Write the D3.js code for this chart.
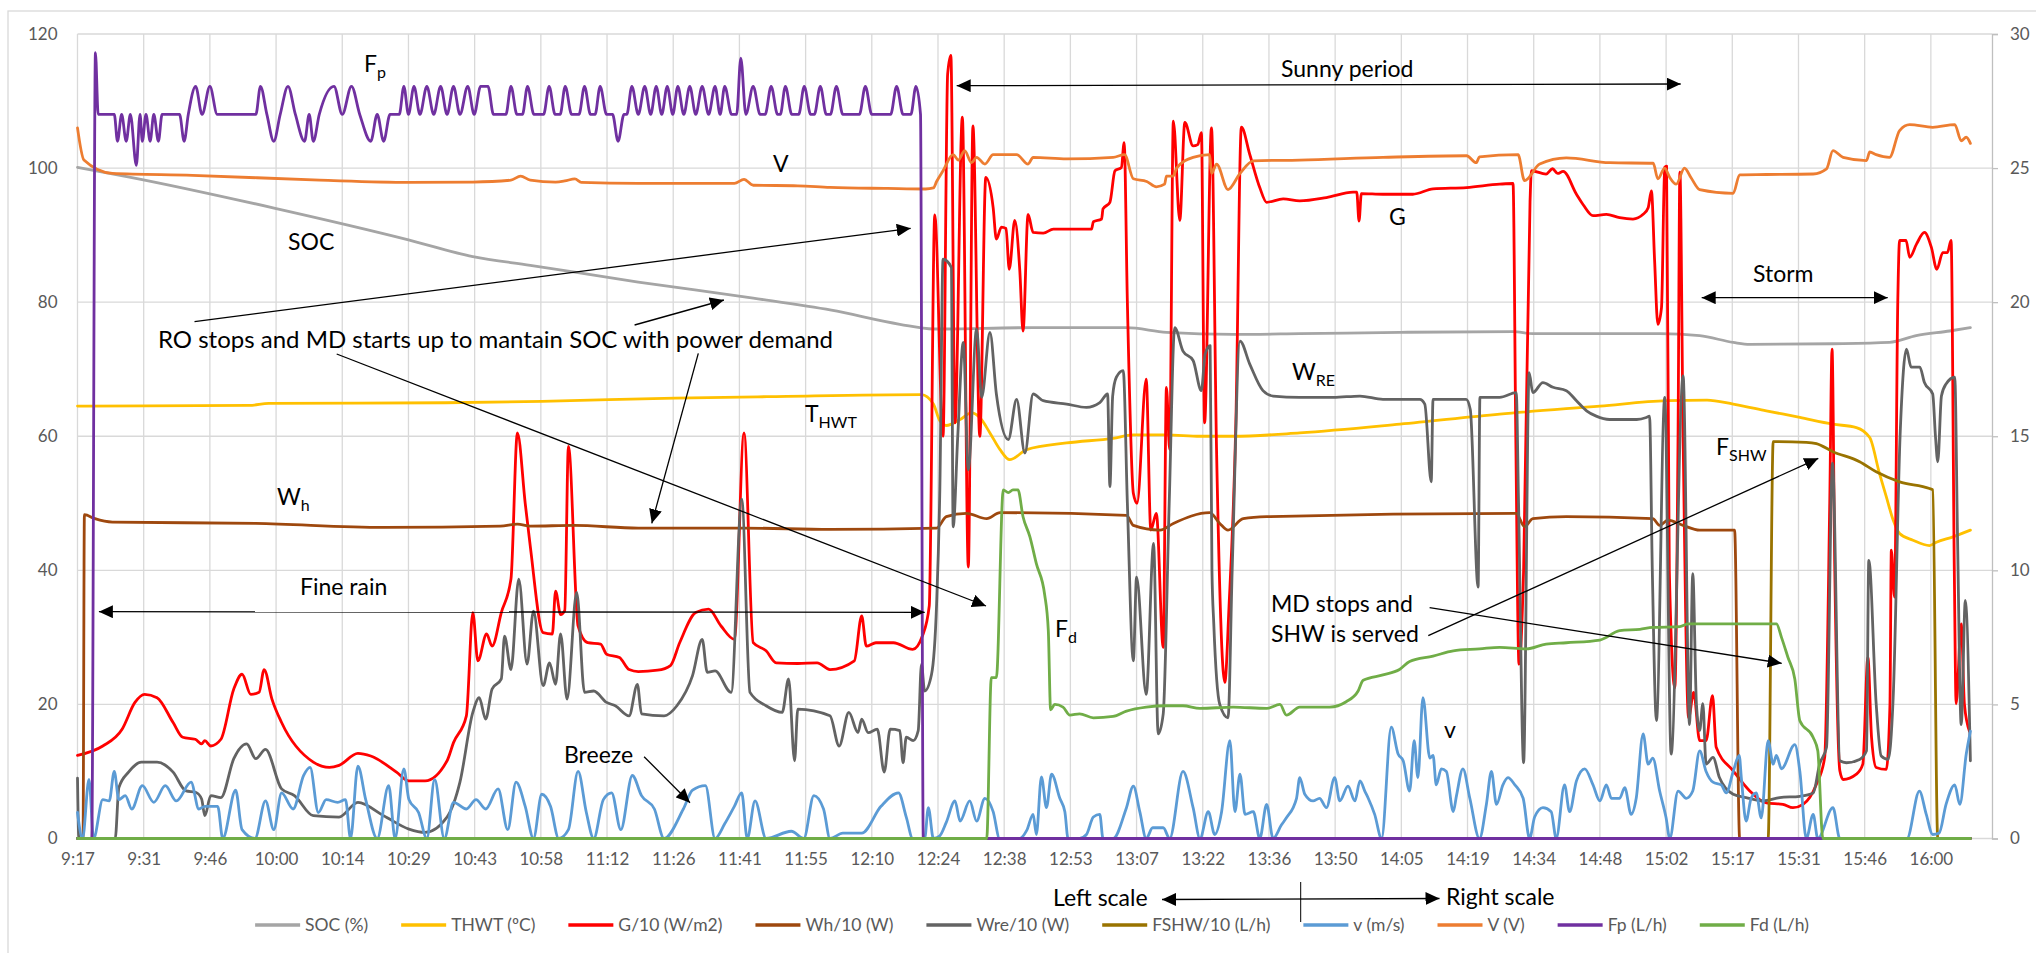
<!DOCTYPE html>
<html>
<head>
<meta charset="utf-8">
<script src="https://cdn.jsdelivr.net/npm/d3@7"></script>
<style>
  body { margin: 0; background: #fff; }
  text { font-family: Lato, "Liberation Sans", sans-serif; }
</style>
</head>
<body>
<svg id="chart"></svg>
<script>
// time axis: minutes since 9:17, one label every 14.4 min
const timeLabels = ["9:17","9:31","9:46","10:00","10:14","10:29","10:43","10:58","11:12","11:26","11:41","11:55","12:10","12:24",
  "12:38","12:53","13:07","13:22","13:36","13:50","14:05","14:19","14:34","14:48","15:02","15:17","15:31","15:46","16:00"];
const labelStep = 14.4;
const leftTicks = [0, 20, 40, 60, 80, 100, 120];
const rightTicks = [0, 5, 10, 15, 20, 25, 30];

// left scale series [minute, value]
const socData = [[0,100.1],[11,98.7],[43,94],[72,89.3],[86,86.8],[98.5,85.5],[122,83],[147,80.6],[164,78.8],[178.9,76.7],[186.2,76],
  [207.9,76.2],[228.2,76.2],[236.9,75.5],[251.4,75.2],[265.9,75.3],[287.7,75.5],[312.3,75.6],[316.6,75.3],[344.2,75.3],[352.9,75],
  [360.2,74],[363.8,73.7],[381.9,73.8],[394.2,74],[400,75],[407.3,75.7],[411.8,76.2]];

const thwtData = [[0,64.5],[37.4,64.6],[41.6,64.9],[80,65],[101,65.2],[130,65.7],[150,65.9],[183.6,66.2],[186.2,64.8],[187.6,62.3],
  [189,61.6],[192,62.5],[194.5,63.5],[196.3,62.8],[198.5,60.5],[200.7,58],[202.8,56.5],[206.5,58],[215.2,59],[225.3,59.7],[229.7,60.2],
  [236.9,60.2],[244.2,60],[251.4,60],[265.9,60.5],[287.7,61.8],[309.4,63.3],[331.2,64.5],[345.7,65.3],[354.5,65.4],[360.2,64.8],
  [367.4,63.8],[374.7,62.8],[381.9,61.8],[387,61.3],[389.9,59.8],[392,54.5],[393.5,51],[395,47.5],[396.4,45.5],[399.3,44.5],
  [402.9,43.7],[404.4,44.2],[408,45],[411.8,46]];

const gData = [[0,12.4],[5.5,13.8],[9.7,16.3],[12.5,20.3],[14.6,21.5],[17.3,21],[20.8,17.3],[22.9,15.1],[25.6,14.8],[27,14.1],[27.7,14.6],
  [29,13.8],[31.2,14.8],[34,22.3],[35.8,24.5],[37.7,21.5],[39.5,21.8],[40.6,25.2],[42.3,20.8],[44.4,17.3],[51.3,11.4],[54.8,10.6],
  [56.9,10.9],[61,12.7],[63.8,12.3],[69.4,9.9],[72,8.6],[75.6,8.6],[80.4,11.6],[81.8,14.3],[84.6,18.3],[86,33.7],[87.1,26.5],[89,30.5],
  [90.2,28.7],[92.2,33.7],[94.3,38.7],[95.7,60.5],[97.4,50],[98.5,43.6],[101.3,30.7],[103.3,30.5],[104,36.9],[105.1,33.4],[106,34],
  [106.8,58.5],[108.9,31.7],[111,29.2],[113.8,29],[115.1,27.5],[117.9,27],[120,25.2],[122,24.9],[126.2,25.1],[129,25.8],[131,29.2],
  [134.5,33.7],[137.3,34.2],[140,31.7],[142.9,29.7],[145,60.5],[147,29.2],[149.8,28],[152,26.2],[156.7,26.1],[160.9,26.2],[163.7,25.2],
  [169,26.5],[170.6,33.2],[171.6,28.7],[173.7,29.2],[177.5,29.2],[181.7,28.2],[183.8,30.2],[185.3,34.7],[186.5,93],[188.3,60],
  [189.3,114],[190,116.8],[190.9,62],[192.5,107.6],[193.8,40.5],[194.8,106.3],[196.3,60],[197.6,98.6],[199.2,94.1],[199.9,89.4],
  [201,91.2],[202,91],[202.7,84.9],[203.9,92.2],[205,84.7],[205.7,75.7],[206.8,93.1],[207.9,90.4],[210.1,90.3],[212.3,90.9],
  [217.3,90.9],[220.6,90.9],[221,92],[222.8,92.4],[223.1,93.9],[224.6,94.9],[225.7,99.6],[227.1,100.1],[227.7,103.8],[228.4,80],
  [229.7,51.5],[230.5,50],[232.5,68.5],[233.5,46],[234.7,48.5],[236.2,28.5],[236.9,67.3],[237.6,58],[238.4,107],[239.8,92.2],
  [240.9,106.8],[242.7,103.3],[243.7,103.5],[244.5,105.3],[245.2,62],[246.7,106],[247.8,58],[249.6,23.3],[250.5,34.4],[252,62],
  [253.2,106.1],[255,102.1],[257.2,97.1],[258.7,94.9],[262.3,95.4],[265.9,95.1],[271.7,95.6],[277.5,96.4],[278.3,96.4],[278.8,92.1],
  [279.3,96.2],[284,96.1],[290.5,96.1],[294.9,96.9],[302.2,97.1],[309.4,97.6],[312.3,97.7],[312.9,60],[313.6,26],[314.6,40],[316,95],
  [316.3,99.6],[319.5,99.1],[320.9,99.9],[322,99.2],[323.2,99.5],[326.1,96.1],[327.6,94.5],[329.7,92.9],[332.6,93.1],[335.5,92.6],
  [338.4,92.4],[340.6,93.1],[341.7,94.1],[342.4,96.6],[343.1,86.2],[343.8,76.7],[344.6,79.2],[345.3,100.1],[345.7,100.3],[346.3,40],
  [347.5,22.5],[348.2,60],[348.6,99.4],[349.3,60],[350.5,18],[351.6,21.8],[352.9,14.6],[354.3,14.6],[355.7,21.3],[356.5,13.6],
  [360.2,10.1],[363.8,7.1],[367.4,5.3],[371,5.1],[373.2,4.6],[375.4,5.1],[378.3,8.1],[380.1,12.1],[381.2,50],[381.7,73],[382.3,40],
  [383.4,10.1],[384.1,8.8],[387,9.6],[388.4,11.1],[389.5,27],[390.3,15],[391.3,10.6],[393.5,10.3],[394.3,20],[394.6,43],[395.3,36],
  [396,80],[396.4,89.2],[397.8,89.2],[398.6,86.7],[400.1,88.7],[401.8,90.4],[403.3,88.2],[404.5,84.9],[405.8,87.4],[406.8,87.4],
  [407.6,89.2],[408.3,40],[408.7,20.1],[409.8,32],[410.5,20],[411.6,16]];

const whData = [[0,0],[1.2,0],[1.5,48.3],[3.8,47.7],[7.6,47.2],[38.8,47],[66.6,46.4],[92,46.6],[95.7,46.9],[98.5,46.6],[108,46.7],
  [122,46.3],[145,46.3],[163.7,46.1],[186.9,46.3],[189,48],[193.4,48.5],[197.8,47.7],[200.7,48.6],[228.2,48.2],[229.7,46.7],
  [235.5,46],[238.4,47],[246.3,48.6],[248.5,47],[250.3,46],[253.6,47.7],[258.7,48],[313,48.5],[314.8,46.5],[316.6,47.7],[323.9,48],
  [342.7,47.7],[344.2,46.7],[346,47.5],[349.3,46.7],[352.9,46],[360.5,46],[361.6,0],[411.8,0]];

const wreData = [[0,9],[0.3,0],[8.2,0],[9,7.6],[11.1,9.9],[13.9,11.4],[17.3,11.4],[20.8,9.9],[23.6,7.1],[25.7,6.9],[27,5.9],[27.7,3.4],[29,6.4],
  [31.2,6.1],[34,11.9],[36.8,14.1],[38.8,11.9],[40.9,13.3],[44.4,7.4],[47.2,6.4],[51.3,3.4],[56.9,3.2],[61,5.4],[66.6,3.4],[72.1,1.4],
  [75.6,0.9],[80.4,3.2],[83.2,8.4],[86,18.8],[87.4,21],[88.8,17.8],[90.2,22.3],[92.2,23.8],[92.9,30.2],[94.3,25.2],[96,38.7],
  [97.8,26],[99.2,33.9],[101.3,22.8],[102.7,26.2],[104,23],[105.1,30.5],[106.5,20.8],[108.6,36.7],[110.3,21.8],[112.3,22],[115.1,20.3],
  [117,19.8],[120,18.3],[121.8,23],[122.7,18.6],[127.6,18.3],[130.4,19.8],[133.8,24.3],[135.9,29.7],[137,24.8],[138.7,25],[142.2,21.8],
  [144.5,50.6],[146.3,21.8],[149.8,19.8],[153.3,18.8],[154.7,23.8],[156,11.6],[156.7,19.3],[163.7,18.3],[165.7,13.8],[167.8,18.8],
  [169.8,15.8],[170.6,17.8],[172,15.8],[174,16.3],[175.5,9.9],[176.8,16.3],[178.9,16.1],[179.6,11.3],[180.3,15.1],[181.8,14.6],
  [182.9,16.1],[183.6,26],[184.3,22],[185.8,24.5],[186.9,35],[187.6,52],[188.3,86.4],[190.1,85.2],[190.5,46.5],[191.5,60],[192.7,74],
  [193.8,55],[195.6,76],[196.7,65.8],[198.5,75.5],[199.9,66.3],[202.5,59.5],[204.3,65.5],[206.1,57.5],[207.9,66.3],[210.1,65.3],
  [215.2,64.8],[219.5,64.3],[222.4,65],[224.1,66.3],[224.6,52.5],[225.2,66],[226,68.8],[227.5,69.8],[228.4,50],[229.7,26.5],
  [230.4,39],[232.5,21.5],[234.1,44],[235.1,15.6],[236.2,18.6],[237.5,50],[238.7,76.2],[240.5,72.7],[242.7,71.3],[244.5,66.8],
  [245.3,72.2],[246.4,73.5],[246.8,40],[247.2,32],[248.5,20],[250.3,18],[251.2,40],[252.9,74.2],[255,70.8],[257.9,66.8],[260.1,66],
  [265.9,65.8],[273.2,65.8],[279,66],[284,65.5],[292,65.5],[293.1,64.8],[294.5,53.2],[294.9,65.5],[302.1,65.5],[303,64],[304.7,37.5],
  [305.1,65.8],[309.4,65.8],[313,66.5],[313.5,50],[314.6,11.3],[315.8,69.5],[316.6,66.5],[318.8,68],[321,67.3],[323.9,66.8],
  [326.1,65.3],[328.3,63.8],[330.4,63],[333.3,62.5],[336.2,62.5],[339.2,62.5],[341.3,62.8],[342,63],[342.6,40],[343.5,17.6],
  [345.3,65.8],[346.7,12.6],[349.3,69],[350.7,17],[351.4,39.5],[352.2,20],[352.9,16.1],[353.6,20.1],[354.3,11.1],[355.8,12.1],
  [357.2,9.1],[360.2,6.6],[363,6.1],[366.7,5.6],[370.3,6.1],[374.7,6.3],[377.6,6.8],[379,11.1],[380.5,13.6],[381.8,56],[383.4,11.6],
  [384.8,11.3],[387.7,11.8],[389.2,13.1],[389.7,41.5],[391.3,20.1],[392.4,12.3],[393.9,11.8],[395,21],[396.5,60],[397.9,73],
  [398.9,70.3],[400.8,70.3],[401.8,68],[403.6,66.3],[404.2,60],[404.7,56.2],[405.5,66],[406.5,67.8],[408.4,68.8],[409,45],[409.8,17],
  [410.7,35.5],[411.8,11.6]];

const fshwData = [[0,0],[367.8,0],[368.9,59.2],[376.1,59.1],[378.3,58.9],[381.9,57.7],[387.7,56.2],[391.3,54.7],[396.4,53.2],
  [402.9,52.2],[403.6,52],[404.7,0],[411.8,0]];

// right scale series
const windData = [[0,0.97],[1.1,0],[2.5,2.2],[3.5,0],[5.5,1.45],[6.9,1.4],[8,2.5],[9,1.45],[10.4,1.6],[11.8,1.1],[14.1,1.97],[16.6,1.35],
  [19.1,1.97],[21.5,1.4],[24.7,2.1],[26.4,1.1],[27.7,1.2],[30.5,1.2],[31.6,0],[34.4,1.8],[35.8,0.33],[38.6,0],[40.9,1.4],[42.7,0.33],
  [44.4,1.7],[46.9,1.1],[49.2,2.35],[50.6,2.65],[52.4,0.97],[54.1,1.45],[56.6,1.35],[58.3,1.45],[59.4,0],[61,2.7],[62.7,1.45],[65.2,0],
  [67.7,1.97],[69.1,0],[71,2.6],[72.1,1.45],[74.2,0.97],[76,0],[77.7,2.2],[79.8,0],[81.8,1.35],[84.6,1.1],[86.7,1.45],[88.8,1.1],
  [91.5,1.85],[93.6,0.33],[95.4,2.1],[97.4,1.2],[99.2,0],[101,1.65],[102.9,1.2],[104.7,0],[106.8,0.33],[108.9,2.5],[110.7,0.97],
  [112.3,0],[114.4,1.45],[116.2,1.7],[118.2,0.33],[120.7,2.35],[122.7,1.6],[125.5,1.1],[127.6,0],[131.8,1.1],[133.8,1.8],[136.6,1.97],
  [138.7,0],[140.8,0.55],[142.9,1.2],[144.5,1.7],[145.7,0],[147.4,1.4],[149.8,0],[155.3,0.27],[158,0],[160.2,1.6],[162.3,1.1],[163.7,0],
  [166.5,0.2],[170.6,0.2],[174.8,1.2],[178.6,1.7],[180.3,0.8],[181.7,0],[184.3,0],[185.1,1.15],[186.2,0],[187.6,0.1],[189,0.6],
  [190.9,1.4],[192,0.65],[194.1,1.4],[195.6,0.65],[197.4,1.5],[199.2,1],[200.6,0],[205,0],[206.5,0.3],[207.9,0.9],[208.6,0.15],
  [209.7,2.3],[210.8,1.15],[211.9,2.4],[213.7,1.5],[214.8,1],[215.5,0],[218,0],[219.5,0.15],[221,0.8],[222.4,0.9],[223.1,0],[225.3,0],
  [228.2,1.15],[229.7,1.95],[231.1,1],[232.5,0],[233.9,0.4],[236.2,0.4],[237.6,0],[240.5,2.5],[242.7,1.15],[244.2,0],[246,1],
  [247.4,0.15],[248.9,1],[250.7,3.65],[251.8,1],[252.9,2.4],[254,0.9],[255.8,1],[257.2,0],[258.7,1.27],[260.1,0],[261.9,0.5],[263,0.77],
  [265.2,1.5],[265.9,2.27],[267,1.65],[268.8,1.4],[270.2,1.5],[271.7,1.15],[273.5,2.27],[274.6,1.4],[276.4,1.95],[277.9,1.4],[279,2.15],
  [280.1,1.75],[280.8,1.5],[282.2,0.9],[283.7,0],[285.8,4.15],[287.3,3.15],[288.4,2.9],[289.8,1.77],[290.8,3.65],[291.6,2.27],
  [292.7,5.25],[294.2,3.0],[294.9,3.1],[295.6,2.0],[296.7,2.6],[297.8,2.5],[299.3,1],[300,1.6],[301.4,2.6],[302.9,1.5],[305,0],
  [306.5,1.27],[307.6,2.5],[308.7,1.27],[310.1,2],[311.2,2.27],[312.7,2],[314.5,1.5],[315.9,0],[317,0.8],[318.8,1.15],[320.6,1],
  [321.7,0],[323.5,2],[324.6,1],[326.1,2.15],[327.9,2.6],[329.7,2],[331.2,1.4],[332.6,2],[333.7,1.5],[335.5,1.5],[336.6,1.9],[338,0.9],
  [339.1,1.5],[340.6,3.9],[341.7,2.77],[342.7,3.0],[344.2,1.77],[345.6,0.77],[346.4,0],[348.2,1.77],[350,1.5],[351.4,1.77],[352.9,3.27],
  [354.3,2.5],[355.8,2.1],[357.6,2.0],[358.7,1.7],[360.2,2.5],[361.5,3.1],[362,2.2],[363,0.65],[364.1,1.5],[365.2,1.7],[366.3,0.77],
  [367.8,3.65],[368.9,2.77],[369.6,3.1],[370.7,2.6],[373.6,3.5],[374.7,2.5],[376.1,0],[377.6,0.9],[378.6,0],[381.9,1.15],[383.4,0],
  [398,0],[400.7,1.77],[402.2,0.9],[403.6,0.15],[405,0.2],[406.5,1.27],[408.4,2],[409.5,1.27],[410.9,3.15],[411.8,4.0]];

const voltData = [[0,26.5],[1.4,25.3],[7.6,24.8],[25,24.73],[52.7,24.55],[72.1,24.47],[86,24.48],[94.3,24.55],[96.4,24.7],[98.5,24.55],
  [104,24.48],[106,24.52],[108.2,24.6],[109.6,24.47],[122,24.43],[142.9,24.43],[145,24.58],[147,24.36],[156.7,24.34],[163.7,24.28],
  [176.2,24.24],[184.5,24.22],[186.2,24.26],[186.9,24.5],[188.3,24.9],[190.5,25.5],[191.6,25.3],[193,25.65],[194.5,25.2],[195.6,25.4],
  [197.4,25.15],[199.2,25.5],[204.3,25.5],[206.8,25.15],[207.9,25.4],[215.2,25.34],[225.3,25.4],[227.8,25.5],[229.7,24.6],
  [232.6,24.5],[234.7,24.3],[236.5,24.4],[236.9,24.7],[238.4,24.7],[239.1,25.0],[242.7,25.4],[246.3,25.5],[246.7,24.8],[247.8,25.15],
  [250.3,24.2],[252.9,24.8],[255.8,25.27],[265.9,25.3],[284,25.4],[302.2,25.46],[304.3,25.2],[305,25.42],[313.4,25.5],[314.8,24.53],
  [318.1,25.15],[323.9,25.38],[333.3,25.2],[342.8,25.18],[343.8,24.6],[345.3,25.0],[346.4,24.65],[347.8,24.4],[349.6,25.0],
  [351,24.65],[352.9,24.2],[360.2,24.06],[361.6,24.75],[367.4,24.76],[377.6,24.78],[380.5,24.97],[381.9,25.65],[384.1,25.4],
  [389.2,25.28],[389.9,25.6],[391.3,25.5],[394.2,25.4],[396.4,26.4],[398.6,26.62],[403.6,26.52],[408.4,26.62],[409.8,26.02],
  [410.9,26.15],[411.8,25.92]];

const fpData = [[0,0],[3.1,0],[3.9,29.3],[4.5,27],[8,27],[8.7,26],[9.6,27],[10.6,26],[11.5,27],[12.8,25.1],[13.6,27],[14.1,26],[14.9,27],
  [15.8,26],[16.6,27],[17.6,26],[18.4,27],[22.2,27],[23.2,26],[24.1,27],[25.7,28.05],[27.1,27],[28.8,28.05],[30.4,27],[38.8,27],
  [39.8,28.05],[41.2,27],[42.7,26],[44.1,27],[45.8,28.05],[47.4,27],[49.4,26],[50.4,27],[51.3,26],[52.6,27],[55.8,28.05],[57.6,27],
  [59.6,28.05],[61.4,27],[63.8,26],[65.2,27],[66.6,26],[68,27],[70,27],[71,28.05],[72,27],[73.2,28.05],[74.5,27],[76,28.05],[77.5,27],
  [79,28.05],[80.4,27],[81.8,28.05],[83.2,27],[84.9,28.05],[86.3,27],[87.7,28.05],[89.3,28.05],[90.5,27],[93.2,27],[94.3,28.05],
  [95.6,27],[96.8,27],[97.9,28.05],[99.3,27],[101.4,27],[102.6,28.05],[103.9,27],[105,27],[106.1,28.05],[107.5,27],[109.1,27],
  [110.3,28.05],[111.6,27],[112.6,27],[113.7,28.05],[115.1,27],[116.4,27],[117.6,26],[118.9,27],[119.5,27],[120.6,28.05],[122,27],
  [123.4,28.05],[124.7,27],[125.9,28.05],[127.1,27],[128.3,28.05],[129.5,27],[130.6,28.05],[131.9,27],[133.2,28.05],[134.5,27],
  [135.9,28.05],[137.3,27],[138.7,28.05],[139.8,27],[140.8,28.05],[142.3,27],[143.4,27],[144.3,29.1],[145.4,27],[147,28.05],
  [148.5,27],[149.6,27],[150.9,28.05],[152.3,27],[152.9,27],[154,28.05],[155.4,27],[156.9,27],[158.1,28.05],[159.5,27],[160.3,27],
  [161.6,28.05],[162.9,27],[163.8,27],[165.1,28.05],[166.5,27],[170.1,27],[171.4,28.05],[172.8,27],[176.9,27],[178.2,28.05],
  [179.6,27],[181.3,27],[182.4,28.05],[183.4,27],[184,0],[411.8,0]];

const fdData = [[0,0],[197.8,0],[198.8,6],[199.9,6],[201.4,13],[202.5,12.9],[203.5,13],[204.6,13],[205.7,12],[207.2,11.25],
  [208.6,10.25],[210.4,9.1],[211.2,7.75],[211.7,4.8],[212.6,5.0],[214.4,4.9],[215.9,4.6],[218,4.65],[221,4.5],[225.3,4.55],
  [228.2,4.75],[232.5,4.9],[236.9,4.95],[240.5,4.95],[244.2,4.85],[251.4,4.9],[258.7,4.85],[261.6,5.0],[263,4.6],[265.9,4.9],
  [272.4,4.9],[276,5.1],[278.6,5.5],[279.7,5.9],[284,6.1],[287.6,6.3],[289.8,6.6],[294.9,6.8],[299.3,7.0],[305,7.07],[309.4,7.13],
  [315.2,7.07],[319.5,7.25],[323.9,7.3],[331.2,7.4],[335.5,7.75],[339.9,7.8],[342.7,7.87],[348.6,7.9],[350.4,8.0],[355.8,8.0],
  [369.6,8.0],[370.7,7.5],[372.1,6.76],[373.6,5.95],[374.7,4.39],[377.6,3.77],[378.6,3.27],[379.7,0],[411.8,0]];

const series = [
  { name: "SOC (%)", data: socData, color: "#A5A5A5", axis: "left" },
  { name: "THWT (ºC)", data: thwtData, color: "#FFC000", axis: "left" },
  { name: "G/10 (W/m2)", data: gData, color: "#FF0000", axis: "left" },
  { name: "Wh/10 (W)", data: whData, color: "#9E480E", axis: "left" },
  { name: "Wre/10 (W)", data: wreData, color: "#636363", axis: "left" },
  { name: "FSHW/10 (L/h)", data: fshwData, color: "#997300", axis: "left" },
  { name: "v (m/s)", data: windData, color: "#5B9BD5", axis: "right" },
  { name: "V (V)", data: voltData, color: "#ED7D31", axis: "right" },
  { name: "Fp (L/h)", data: fpData, color: "#7030A0", axis: "right" },
  { name: "Fd (L/h)", data: fdData, color: "#70AD47", axis: "right" }
];

const w = 2036;
const h = 953;
const svg = d3.select("#chart").attr("width", w).attr("height", h);
svg.append("rect").attr("width", w).attr("height", h).attr("fill", "#fff");
svg.append("rect").attr("x", 8).attr("y", 11).attr("width", w + 20).attr("height", h + 20)
  .attr("fill", "none").attr("stroke", "#D9D9D9").attr("stroke-width", 1.3);

const xScale = d3.scaleLinear().domain([0, 416.5]).range([77.5, 1992]);
const yLeft = d3.scaleLinear().domain([0, 120]).range([838.5, 34]);
const yRight = d3.scaleLinear().domain([0, 30]).range([838.5, 34]);
const tickMinutes = timeLabels.map((d, i) => i * labelStep);

// grid
const grid = svg.append("g");
grid.selectAll(".hgrid").data(leftTicks).enter().append("line")
  .attr("x1", xScale.range()[0]).attr("x2", xScale.range()[1])
  .attr("y1", (d) => yLeft(d)).attr("y2", (d) => yLeft(d))
  .attr("stroke", "#D9D9D9").attr("stroke-width", 1.3);
grid.selectAll(".vgrid").data(tickMinutes).enter().append("line")
  .attr("x1", (d) => xScale(d)).attr("x2", (d) => xScale(d))
  .attr("y1", yLeft(120)).attr("y2", yLeft(0))
  .attr("stroke", "#D9D9D9").attr("stroke-width", 1.3);

// axes
const xAxis = d3.axisBottom(xScale).tickValues(tickMinutes).tickFormat((d, i) => timeLabels[i]).tickSize(0).tickPadding(14);
const leftAxis = d3.axisLeft(yLeft).tickValues(leftTicks).tickSize(0).tickPadding(20);
const rightAxis = d3.axisRight(yRight).tickValues(rightTicks).tickSize(6).tickPadding(12);

function styleAxis(g) {
  g.select(".domain").attr("stroke", "#BFBFBF").attr("stroke-width", 1.3);
  g.selectAll(".tick line").attr("stroke", "#BFBFBF").attr("stroke-width", 1.3);
  g.selectAll(".tick text").attr("fill", "#595959").style("font-size", "17px").style("font-family", "Lato");
}
svg.append("g").attr("transform", `translate(0, ${yLeft(0)})`).call(xAxis).call(styleAxis)
  .call((g) => g.select(".domain").remove());
svg.append("g").attr("transform", `translate(${xScale.range()[0]}, 0)`).call(leftAxis).call(styleAxis)
  .call((g) => g.select(".domain").remove());
svg.append("g").attr("transform", `translate(${xScale.range()[1]}, 0)`).call(rightAxis).call(styleAxis);

// series
const lines = svg.append("g");
series.forEach((s) => {
  const y = s.axis === "left" ? yLeft : yRight;
  const line = d3.line().x((d) => xScale(d[0])).y((d) => y(d[1])).curve(d3.curveMonotoneX);
  lines.append("path").datum(s.data).attr("d", line)
    .attr("fill", "none").attr("stroke", s.color).attr("stroke-width", 2.8)
    .attr("stroke-linejoin", "round").attr("stroke-linecap", "round");
});

// arrowhead
svg.append("defs").append("marker").attr("id", "head")
  .attr("markerUnits", "userSpaceOnUse").attr("markerWidth", 15).attr("markerHeight", 13)
  .attr("refX", 14).attr("refY", 6.5).attr("orient", "auto-start-reverse")
  .append("path").attr("d", "M0,0 L14,6.5 L0,13 Z").attr("fill", "#000");

const notes = svg.append("g");
const arrows = [
  { x1: 194.5, y1: 321.7, x2: 910.7, y2: 228.3, both: false },
  { x1: 634.6, y1: 325, x2: 723.9, y2: 300, both: false },
  { x1: 336.7, y1: 354, x2: 986, y2: 606, both: false },
  { x1: 698.3, y1: 353.3, x2: 651.8, y2: 523.3, both: false },
  { x1: 956.7, y1: 85.7, x2: 1680.7, y2: 84, both: true },
  { x1: 1701.7, y1: 297.7, x2: 1887.7, y2: 297.7, both: true },
  { x1: 98.9, y1: 611.7, x2: 924.7, y2: 612.3, both: true },
  { x1: 644.1, y1: 756.7, x2: 690, y2: 802.7, both: false },
  { x1: 1429.6, y1: 607.7, x2: 1781.7, y2: 663.3, both: false },
  { x1: 1428.3, y1: 635.7, x2: 1818.3, y2: 458.3, both: false },
  { x1: 1162, y1: 899.5, x2: 1439.5, y2: 898.5, both: true }
];
arrows.forEach((a) => {
  const l = notes.append("line").attr("x1", a.x1).attr("y1", a.y1).attr("x2", a.x2).attr("y2", a.y2)
    .attr("stroke", "#000").attr("stroke-width", 1.3).attr("marker-end", "url(#head)");
  if (a.both) l.attr("marker-start", "url(#head)");
});
notes.append("line").attr("x1", 1300.7).attr("x2", 1300.7).attr("y1", 882).attr("y2", 922)
  .attr("stroke", "#000").attr("stroke-width", 1);

const labels = [
  { x: 364, y: 72, t: "F", sub: "p" },
  { x: 773, y: 172, t: "V" },
  { x: 288, y: 250, t: "SOC" },
  { x: 158, y: 348, t: "RO stops and MD starts up to mantain SOC with power demand", size: 24 },
  { x: 805, y: 422, t: "T", sub: "HWT" },
  { x: 1281, y: 77, t: "Sunny period" },
  { x: 1389, y: 225, t: "G" },
  { x: 1292, y: 380, t: "W", sub: "RE" },
  { x: 277, y: 505, t: "W", sub: "h" },
  { x: 300, y: 595, t: "Fine rain" },
  { x: 1055, y: 637, t: "F", sub: "d" },
  { x: 1271, y: 612, t: "MD stops and" },
  { x: 1271, y: 642, t: "SHW is served" },
  { x: 1716, y: 455, t: "F", sub: "SHW" },
  { x: 1444, y: 738, t: "v" },
  { x: 564, y: 763, t: "Breeze" },
  { x: 1753, y: 282, t: "Storm" },
  { x: 1053, y: 906, t: "Left scale" },
  { x: 1446, y: 905, t: "Right scale" }
];
labels.forEach((d) => {
  const t = notes.append("text").attr("x", d.x).attr("y", d.y).attr("fill", "#000")
    .style("font-size", (d.size || 23) + "px").text(d.t);
  if (d.sub) t.append("tspan").attr("dy", 6).style("font-size", "16px").text(d.sub);
});

// legend
const legend = svg.append("g");
let lx = 0;
series.forEach((s) => {
  const item = legend.append("g").attr("transform", `translate(${lx}, 0)`);
  item.append("line").attr("x1", 0).attr("x2", 45).attr("y1", 0).attr("y2", 0)
    .attr("stroke", s.color).attr("stroke-width", 3.5);
  const txt = item.append("text").attr("x", 50).attr("y", 6).attr("fill", "#595959").style("font-size", "17.5px").text(s.name);
  lx += 50 + txt.node().getComputedTextLength() + 33;
});
legend.attr("transform", `translate(${1032 - (lx - 33) / 2}, 925)`);
</script>
</body>
</html>
